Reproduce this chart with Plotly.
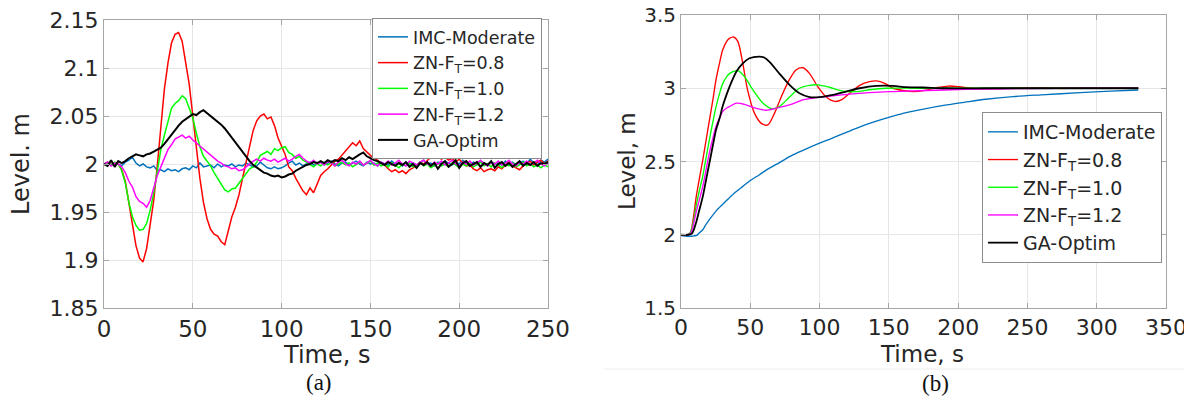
import plotly.graph_objects as go

# ---------------- Panel (a): disturbance response ----------------
t_a = list(range(0, 251, 2))

imc_a = [
    2.000, 2.002, 1.999, 2.001, 2.000, 1.998, 2.002, 2.004, 2.007, 2.001,
    1.998, 2.000, 1.997, 1.996, 1.998, 1.993, 1.994, 1.992, 1.995, 1.993,
    1.994, 1.992, 1.995, 1.996, 1.994, 1.998, 1.996, 2.001, 1.997, 1.998,
    1.999, 1.996, 2.000, 1.997, 1.999, 1.998, 2.000, 1.997, 1.999, 1.998,
    2.001, 1.999, 1.997, 1.998, 2.002, 1.999, 1.996, 1.995, 1.997, 1.995,
    1.996, 1.998, 2.001, 2.003, 1.999, 2.001, 1.998, 2.000, 2.002, 1.999,
    2.000, 2.002, 1.999, 2.001, 2.003, 2.000, 1.998, 2.001, 2.002, 1.999,
    2.001, 2.003, 2.000, 1.998, 2.002, 2.000, 2.001, 1.998, 2.002, 2.000,
    1.999, 2.003, 2.000, 2.001, 1.998, 2.002, 2.000, 2.001, 1.999, 2.002,
    2.004, 2.000, 2.001, 1.998, 2.002, 2.000, 2.003, 2.001, 1.999, 2.002,
    2.000, 2.004, 2.001, 1.999, 2.002, 2.000, 2.003, 2.001, 1.998, 2.002,
    2.000, 2.001, 1.999, 2.003, 2.000, 2.002, 1.999, 2.001, 2.003, 2.000,
    2.005, 2.001, 1.999, 2.004, 2.002, 2.005,
]

zn08_a = [
    2.000, 2.002, 1.999, 2.001, 2.000, 1.994, 1.982, 1.958, 1.935, 1.915,
    1.902, 1.898, 1.912, 1.935, 1.962, 1.998, 2.040, 2.078, 2.105, 2.126,
    2.135, 2.137, 2.128, 2.106, 2.083, 2.050, 2.016, 1.985, 1.960, 1.943,
    1.932, 1.927, 1.925, 1.919, 1.916, 1.932, 1.945, 1.955, 1.968, 1.985,
    2.002, 2.016, 2.035, 2.045, 2.050, 2.052, 2.047, 2.049, 2.040, 2.027,
    2.018, 2.010, 1.997, 1.993, 1.985, 1.978, 1.972, 1.968, 1.975, 1.970,
    1.979, 1.988, 1.992, 1.995, 1.999, 2.003, 2.005, 2.009, 2.013, 2.018,
    2.022, 2.019, 2.024, 2.016, 2.012, 2.009, 2.006, 2.004, 2.001, 1.999,
    1.995, 1.992, 1.994, 1.991, 1.993, 1.990, 1.994, 1.996, 1.999, 2.002,
    2.000, 2.004, 2.007, 2.006, 2.008, 2.005, 2.007, 2.004, 2.006, 2.002,
    2.005, 2.001, 1.998, 1.999, 1.995, 1.993, 1.996, 1.992, 1.994, 1.995,
    1.993, 1.997, 1.995, 1.999, 2.002, 1.998, 1.996, 1.994, 1.998, 2.001,
    2.003, 1.999, 2.002, 2.004, 2.000, 2.003,
]

zn10_a = [
    2.000, 2.001, 1.999, 2.002, 2.000, 1.993, 1.980, 1.960, 1.945, 1.936,
    1.931, 1.932, 1.938, 1.952, 1.970, 1.992, 2.015, 2.030, 2.045, 2.058,
    2.063, 2.066, 2.071, 2.068, 2.058, 2.048, 2.032, 2.018, 2.008, 2.003,
    1.998, 1.991, 1.985, 1.979, 1.973, 1.971, 1.974, 1.975, 1.980, 1.984,
    1.990, 1.995, 1.997, 2.002, 2.009, 2.011, 2.013, 2.010, 2.016, 2.014,
    2.017, 2.018, 2.012, 2.010, 2.006, 2.008, 2.004, 2.002, 1.999, 1.997,
    2.000, 1.998, 2.001, 1.999, 2.002, 1.998, 2.000, 2.002, 1.999, 2.001,
    1.997, 2.000, 2.002, 1.999, 2.001, 2.003, 1.999, 2.001, 1.998, 2.000,
    1.997, 2.001, 1.999, 1.996, 2.000, 1.998, 2.001, 1.997, 1.999, 2.002,
    1.998, 2.000, 1.996, 1.999, 2.001, 1.998, 2.000, 1.997, 2.001, 1.999,
    1.996, 2.000, 1.998, 2.001, 1.997, 1.999, 2.002, 1.998, 2.000, 1.997,
    2.001, 1.999, 1.996, 2.000, 1.998, 2.001, 1.997, 1.999, 2.002, 1.998,
    2.000, 1.997, 1.999, 1.996, 1.999, 1.997,
]

zn12_a = [
    2.000, 2.002, 1.998, 2.001, 2.000, 1.997, 1.991, 1.982, 1.976, 1.966,
    1.961, 1.959, 1.955, 1.962, 1.975, 1.988, 1.997, 2.007, 2.015, 2.020,
    2.026, 2.028, 2.030, 2.027, 2.029, 2.025, 2.022, 2.019, 2.015, 2.012,
    2.009, 2.006, 2.003, 2.001, 1.998, 1.997, 1.995, 1.996, 1.993, 1.994,
    1.997, 2.000, 2.003, 2.005, 2.003, 2.006, 2.004, 2.003, 2.005, 2.002,
    2.004, 2.006, 2.003, 2.005, 2.008, 2.010, 2.006, 2.003, 2.001, 2.004,
    2.000, 2.002, 1.999, 2.003, 2.001, 1.998, 2.002, 2.004, 2.000, 1.998,
    2.002, 2.000, 2.003, 1.999, 2.001, 2.004, 2.000, 1.998, 2.002, 2.000,
    2.003, 1.999, 2.001, 2.004, 2.000, 1.998, 2.003, 2.001, 1.999, 2.002,
    2.004, 2.000, 1.998, 2.002, 2.000, 2.003, 1.999, 2.001, 2.004, 2.000,
    1.998, 2.002, 2.000, 2.003, 1.999, 2.001, 2.004, 2.000, 1.998, 2.002,
    2.000, 2.003, 1.999, 2.001, 2.004, 2.000, 1.998, 2.002, 2.000, 2.003,
    1.999, 2.001, 2.004, 2.000, 1.998, 2.001,
]

ga_a = [
    2.000, 1.998, 2.004, 1.997, 2.003, 2.001, 2.003, 2.006, 2.008, 2.010,
    2.009, 2.008, 2.010, 2.011, 2.013, 2.015, 2.017, 2.021, 2.026, 2.031,
    2.036, 2.040, 2.044, 2.047, 2.050, 2.052, 2.051, 2.054, 2.056, 2.053,
    2.050, 2.048, 2.045, 2.041, 2.037, 2.032, 2.028, 2.023, 2.018, 2.012,
    2.007, 2.003, 1.999, 1.996, 1.993, 1.991, 1.990, 1.988, 1.987, 1.988,
    1.986, 1.987, 1.989, 1.990, 1.993, 1.995, 1.997, 1.999, 2.000, 2.002,
    2.001, 2.003, 2.001, 2.004, 2.002, 2.004, 2.003, 2.006, 2.004, 2.007,
    2.005, 2.008, 2.010, 2.012, 2.008, 2.006, 2.004, 2.003, 2.001, 1.999,
    2.002, 2.000, 1.998, 2.001, 1.999, 2.002, 1.997, 2.000, 1.996, 2.001,
    1.999, 2.002, 1.998, 2.001, 1.995, 2.000, 2.003, 1.997, 2.000, 2.004,
    1.996, 2.001, 2.003, 1.998, 2.000, 2.002, 1.997, 2.001, 1.999, 2.003,
    1.996, 2.000, 2.002, 1.998, 2.001, 1.997, 2.000, 2.003, 1.998, 2.001,
    1.999, 2.002, 1.998, 2.001, 2.000, 2.002,
]

# ---------------- Panel (b): setpoint step response ----------------
t_imc_b = [0, 5, 8, 11.3, 13, 15.7, 18, 21, 26, 32.5, 38, 44.6, 50, 56.6, 62, 68.7, 75,
           80.7, 90, 100, 108, 117, 126, 136, 145, 153, 162.6, 175, 191.7, 205, 220,
           239.7, 260, 288, 310, 330]
imc_b = [1.995, 1.99, 1.99, 1.995, 2.01, 2.034, 2.07, 2.11, 2.17, 2.23, 2.28, 2.33, 2.37,
         2.41, 2.445, 2.48, 2.515, 2.545, 2.585, 2.625, 2.655, 2.69, 2.725, 2.76, 2.788,
         2.81, 2.834, 2.858, 2.886, 2.905, 2.925, 2.943, 2.955, 2.97, 2.98, 2.988]

t_zn08_b = [0, 5, 7, 9, 11, 13, 15.7, 18, 20.5, 23, 25.3, 28, 30, 33, 35, 38, 41, 44.6, 48,
            53, 58, 62.7, 67.5, 72.3, 78.3, 83, 88, 92.8, 98.8, 104.8, 111, 115.7, 121.7,
            129, 136, 141, 147, 153, 160, 168, 176, 185, 193, 201, 210, 230, 250, 270,
            300, 330]
zn08_b = [2.0, 2.0, 2.02, 2.12, 2.26, 2.37, 2.51, 2.64, 2.78, 2.92, 3.06, 3.18, 3.26, 3.32,
          3.34, 3.35, 3.32, 3.17, 2.99, 2.83, 2.76, 2.75, 2.83, 2.94, 3.06, 3.125, 3.14,
          3.10, 3.01, 2.94, 2.91, 2.92, 2.966, 3.02, 3.045, 3.05, 3.034, 3.0, 2.985,
          2.977, 2.985, 3.005, 3.015, 3.01, 3.0, 2.998, 3.003, 3.0, 3.0, 3.0]

t_zn10_b = [0, 5, 7, 9, 10.8, 13, 15.7, 18, 20.5, 23, 25.3, 28, 30, 33, 35, 38, 41, 45.8,
            51.8, 59, 66, 71, 78.3, 85.5, 92.8, 98.8, 107, 117, 126.5, 136, 148, 170, 200,
            250, 330]
zn10_b = [2.0, 2.0, 2.02, 2.09, 2.19, 2.29, 2.40, 2.52, 2.65, 2.77, 2.875, 2.97, 3.03,
          3.08, 3.10, 3.115, 3.12, 3.08, 2.99, 2.90, 2.86, 2.875, 2.94, 3.0, 3.02, 3.023,
          3.007, 2.98, 2.977, 2.99, 3.0, 3.0, 3.0, 3.0, 3.0]

t_zn12_b = [0, 5, 7, 9, 10.8, 13, 15.7, 18, 20.5, 23, 25.3, 28, 30, 33, 35, 40, 45.8, 54,
            61.4, 68.7, 78.3, 88, 97.6, 109.6, 121.7, 136, 150.6, 162.6, 190, 220, 250,
            290, 330]
zn12_b = [2.0, 2.0, 2.01, 2.07, 2.15, 2.23, 2.33, 2.44, 2.56, 2.66, 2.74, 2.80, 2.84,
          2.865, 2.875, 2.898, 2.89, 2.864, 2.85, 2.864, 2.886, 2.92, 2.936, 2.948, 2.96,
          2.97, 2.977, 2.98, 2.988, 2.995, 2.998, 3.0, 3.0]

t_ga_b = [0, 5, 8, 10.8, 13, 15.7, 18, 20.5, 23, 25.3, 28, 30, 33, 35, 40, 44.6, 49.4,
          56.6, 60, 63.9, 71, 78.3, 85.5, 92.8, 100, 109.6, 119, 129, 141, 153, 162.6,
          175, 190, 220, 260, 330]
ga_b = [2.0, 2.0, 2.01, 2.08, 2.16, 2.26, 2.37, 2.49, 2.61, 2.716, 2.80, 2.875, 2.96,
        3.01, 3.114, 3.17, 3.205, 3.216, 3.21, 3.18, 3.10, 3.023, 2.966, 2.94, 2.94,
        2.955, 2.977, 3.0, 3.016, 3.016, 3.007, 3.005, 3.0, 3.0, 3.0, 3.0]

names = ["IMC-Moderate", "ZN-F<sub>T</sub>=0.8", "ZN-F<sub>T</sub>=1.0",
         "ZN-F<sub>T</sub>=1.2", "GA-Optim"]
colors = ["#0072BD", "#FF0000", "#00FF00", "#FF00FF", "#000000"]
widths = [1.5, 1.5, 1.5, 1.5, 2.0]

yticks_a = [1.85, 1.9, 1.95, 2.0, 2.05, 2.1, 2.15]
yticklabels_a = ["1.85", "1.9", "1.95", "2", "2.05", "2.1", "2.15"]
xticks_a = [0, 50, 100, 150, 200, 250]
yticks_b = [1.5, 2.0, 2.5, 3.0, 3.5]
yticklabels_b = ["1.5", "2", "2.5", "3", "3.5"]
xticks_b = [0, 50, 100, 150, 200, 250, 300, 350]

fig = go.Figure()

series_a = [imc_a, zn08_a, zn10_a, zn12_a, ga_a]
for i, ys in enumerate(series_a):
    fig.add_trace(go.Scatter(x=t_a, y=ys, mode="lines", name=names[i],
                             line=dict(color=colors[i], width=widths[i]),
                             xaxis="x", yaxis="y", legend="legend"))

series_b = [(t_imc_b, imc_b), (t_zn08_b, zn08_b), (t_zn10_b, zn10_b),
            (t_zn12_b, zn12_b), (t_ga_b, ga_b)]
for i, (xs, ys) in enumerate(series_b):
    fig.add_trace(go.Scatter(x=xs, y=ys, mode="lines", name=names[i],
                             line=dict(color=colors[i], width=widths[i] * 0.9,
                                       shape="spline", smoothing=0.8),
                             xaxis="x2", yaxis="y2", legend="legend2"))

# The page body has an 8 px margin, so the figure is drawn 8 px in from the
# top-left of the window; size it to fill the rest of the 1192x401 window.
OFF = 8
W, H = 1192 - OFF, 401 - OFF


def fx(px):
    return (px - OFF) / W


def fy(py):
    return 1 - (py - OFF) / H


FONT = "DejaVu Sans"
TXT = "#262626"
AX = "#a6a6a6"
GRID = "#e6e6e6"


def axis_common(size):
    return dict(showgrid=True, gridcolor=GRID, gridwidth=1, showline=True,
                linecolor=AX, linewidth=1, mirror="ticks", ticks="inside",
                ticklen=5, tickcolor=AX, zeroline=False, automargin=False,
                ticklabeloverflow="allow",
                tickfont=dict(family=FONT, size=size, color=TXT))


fig.update_layout(
    width=W, height=H,
    margin=dict(l=0, r=0, t=0, b=0, autoexpand=False),
    paper_bgcolor="white", plot_bgcolor="white",
    xaxis=dict(domain=[fx(104), fx(548)], range=[0, 250], tickvals=xticks_a,
               anchor="y", **axis_common(23)),
    yaxis=dict(domain=[fy(308), fy(20)], range=[1.85, 2.15],
               tickvals=yticks_a, ticktext=yticklabels_a, anchor="x",
               **axis_common(22)),
    xaxis2=dict(domain=[fx(681), fx(1166)], range=[0, 350], tickvals=xticks_b,
                anchor="y2", **axis_common(22)),
    yaxis2=dict(domain=[fy(308), fy(15)], range=[1.5, 3.5],
                tickvals=yticks_b, ticktext=yticklabels_b, anchor="x2",
                **axis_common(20)),
    legend=dict(x=fx(372), y=fy(18), xanchor="left", yanchor="top",
                bgcolor="white", bordercolor="#8c8c8c", borderwidth=1,
                font=dict(family=FONT, size=17.5, color=TXT), tracegroupgap=0,
                itemwidth=30),
    legend2=dict(x=fx(982), y=fy(112), xanchor="left", yanchor="top",
                 bgcolor="white", bordercolor="#8c8c8c", borderwidth=1,
                 font=dict(family=FONT, size=19, color=TXT), tracegroupgap=0,
                 itemwidth=30),
    showlegend=True,
)

annotations = [
    dict(text="Level. m", x=fx(21), y=fy(164), textangle=-90,
         font=dict(family=FONT, size=24, color=TXT)),
    dict(text="Time, s", x=fx(327), y=fy(355),
         font=dict(family=FONT, size=24, color=TXT)),
    dict(text="Level, m", x=fx(627), y=fy(161), textangle=-90,
         font=dict(family=FONT, size=23, color=TXT)),
    dict(text="Time, s", x=fx(922), y=fy(354),
         font=dict(family=FONT, size=23, color=TXT)),
    dict(text="(a)", x=fx(319), y=fy(382),
         font=dict(family="Liberation Serif", size=23, color="#111111")),
    dict(text="(b)", x=fx(935), y=fy(383),
         font=dict(family="Liberation Serif", size=23, color="#111111")),
]
for a in annotations:
    a.update(xref="paper", yref="paper", showarrow=False, xanchor="center",
             yanchor="middle")
fig.update_layout(annotations=annotations)

fig.add_shape(type="line", xref="paper", yref="paper", x0=fx(604), x1=1.0,
              y0=fy(369), y1=fy(369), line=dict(color="#eeeeee", width=1))

fig.write_html("out.html")
